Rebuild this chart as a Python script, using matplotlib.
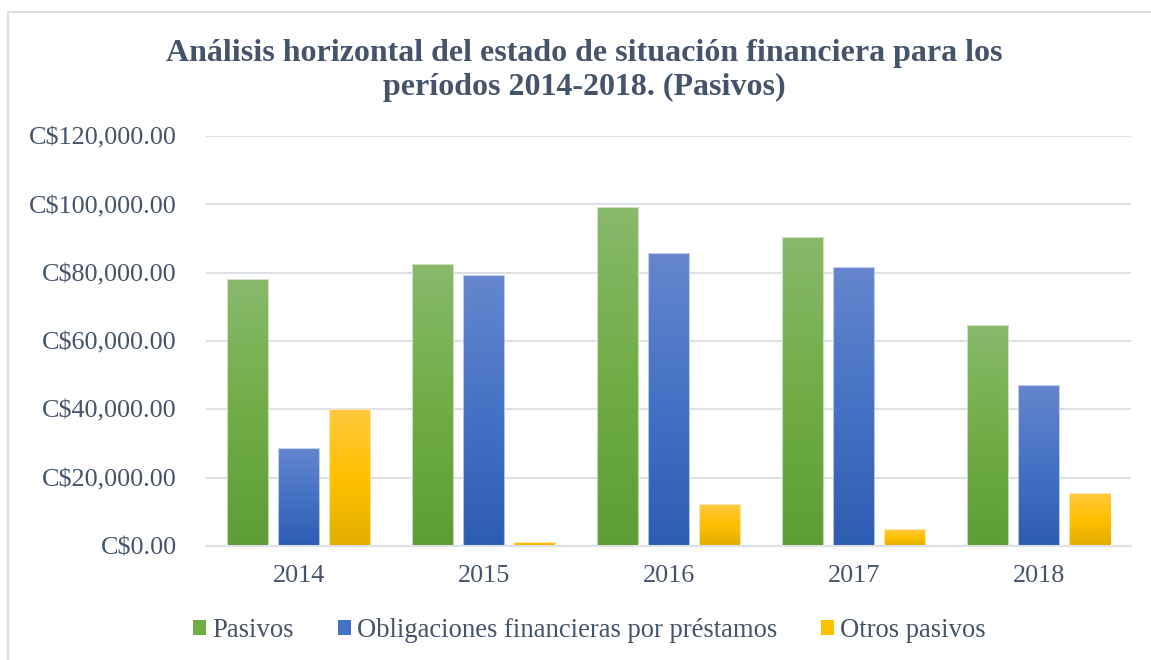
import numpy as np
import matplotlib
matplotlib.use("Agg")
import matplotlib.pyplot as plt
from matplotlib.colors import LinearSegmentedColormap
from matplotlib.patches import Patch, Rectangle
from matplotlib.ticker import FuncFormatter

plt.rcParams["font.family"] = ["Liberation Serif", "DejaVu Serif"]

# ── data ─────────────────────────────────────────────────────────────────────
years = ["2014", "2015", "2016", "2017", "2018"]
series_names = ["Pasivos", "Obligaciones financieras por préstamos", "Otros pasivos"]
pasivos = [78200, 82600, 99400, 90600, 64700]
obligaciones = [28600, 79300, 85900, 81800, 47200]
otros = [40200, 1200, 12200, 4900, 15400]

# gradient colours (top, middle, bottom)
gradients = [
    ("#88B96B", "#70AD47", "#5E9C35"),
    ("#6686CE", "#4472C4", "#2D5CB3"),
    ("#FFC83F", "#FFC000", "#E1AD00"),
]
text_color = "#44546A"
grid_color = "#DDE1E7"

# ── figure ───────────────────────────────────────────────────────────────────
fig = plt.figure(figsize=(11.51, 6.60), dpi=100)
ax = fig.add_axes([0.179, 0.1727, 0.804, 0.621])

x = np.arange(len(years))
width = 0.222
offset = 0.276

for i, (vals, grad) in enumerate(zip([pasivos, obligaciones, otros], gradients)):
    cmap = LinearSegmentedColormap.from_list(f"g{i}", [grad[0], grad[1], grad[2]])
    bars = ax.bar(x + (i - 1) * offset, vals, width, facecolor="none",
                  edgecolor=(1, 1, 1, 0.6), linewidth=0.8, zorder=3)
    grad_img = np.linspace(0, 1, 256).reshape(-1, 1)
    for b in bars:
        x0, y0 = b.get_x(), b.get_y()
        w, h = b.get_width(), b.get_height()
        # gradient scaled to the full bar height
        im = ax.imshow(grad_img, cmap=cmap, aspect="auto",
                       extent=[x0, x0 + w, y0, y0 + h], origin="upper",
                       zorder=2, interpolation="bilinear")
        im.set_clip_path(b)

ax.set_xlim(-0.5, len(years) - 0.5)
ax.set_ylim(0, 120000)
ax.set_yticks(np.arange(0, 120001, 20000))
ax.yaxis.set_major_formatter(FuncFormatter(lambda v, p: f"C${v:,.2f}"))
ax.set_xticks(x)
ax.set_xticklabels(years)

ax.grid(axis="y", color=grid_color, linewidth=1.5, zorder=0)
ax.set_axisbelow(True)
for s in ["top", "right", "left"]:
    ax.spines[s].set_visible(False)
ax.spines["bottom"].set_color(grid_color)
ax.spines["bottom"].set_linewidth(1.5)
ax.tick_params(axis="both", length=0, labelsize=18.8, labelcolor=text_color)
ax.tick_params(axis="y", pad=21)
ax.tick_params(axis="x", pad=14)

fig.text(0.508, 0.893,
         "Análisis horizontal del estado de situación financiera para los\n"
         "períodos 2014-2018. (Pasivos)",
         ha="center", va="center", fontsize=23, fontweight="bold",
         color=text_color, linespacing=1.24)

handles = [Patch(facecolor=g[1], edgecolor="none") for g in gradients]
fig.legend(handles, series_names, loc="center", bbox_to_anchor=(0.512, 0.045),
           ncol=3, frameon=False, fontsize=19.2, labelcolor=text_color,
           handlelength=0.49, handleheight=0.49, handletextpad=0.22,
           columnspacing=1.65)

# chart border
fig.patches.append(Rectangle((8 / 1151, -0.1), 1.2, 1 - 12 / 660 + 0.1,
                             transform=fig.transFigure, fill=False,
                             edgecolor="#D9DEE6", linewidth=1.5))

fig.savefig("out.png", dpi=100)
